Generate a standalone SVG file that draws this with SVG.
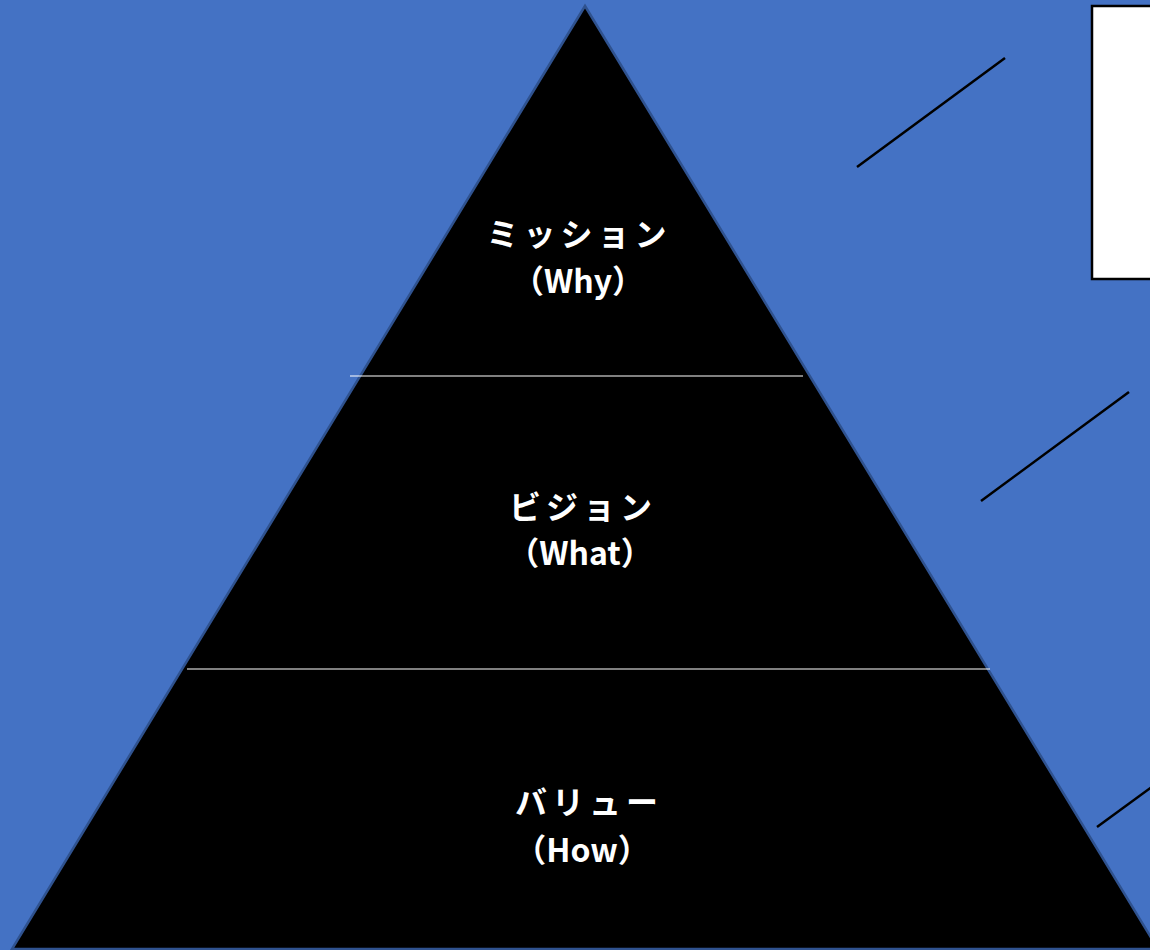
<svg xmlns="http://www.w3.org/2000/svg" width="1150" height="950" viewBox="0 0 1150 950">
<style>
.t{font-family:"Noto Sans CJK JP","Noto Sans",sans-serif;font-weight:bold;font-size:32px;fill:#fff;text-anchor:middle}
.sep{stroke:#fff;stroke-width:1.2}
.ln{stroke:#000;stroke-width:2.5}
</style>
<rect width="1150" height="950" fill="#4472C4"/>
<g id="pyramid">
<polygon points="585,6 12,949 1158,949" fill="#000" stroke="#2F528F" stroke-width="2.5"/>
</g>
<g id="separators">
<line class="sep" x1="350" y1="376" x2="803" y2="376"/>
<line class="sep" x1="187" y1="669" x2="990" y2="669"/>
</g>
<g id="mission">
<text class="t" x="579" y="246" letter-spacing="5">ミッション</text>
<text class="t" x="578" y="293">（Why）</text>
</g>
<g id="vision">
<text class="t" x="583" y="519" letter-spacing="5">ビジョン</text>
<text class="t" x="580" y="565">（What）</text>
</g>
<g id="value">
<text class="t" x="589" y="814" letter-spacing="5">バリュー</text>
<text class="t" x="582" y="862">（How）</text>
</g>
<g id="note">
<rect x="1092" y="6" width="70" height="273" fill="#fff" stroke="#000" stroke-width="2.5"/>
</g>
<g id="connectors">
<line class="ln" x1="857" y1="167" x2="1005" y2="58"/>
<line class="ln" x1="981" y1="501" x2="1129" y2="392"/>
<line class="ln" x1="1097" y1="827" x2="1160" y2="781"/>
</g>
</svg>
